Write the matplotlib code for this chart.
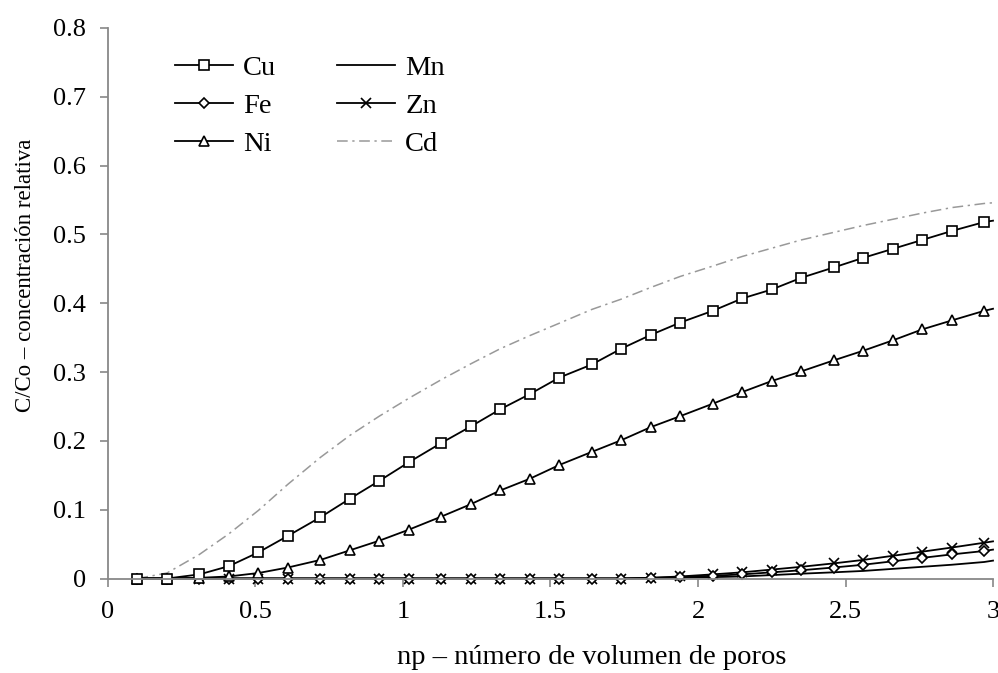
import numpy as np
import matplotlib.pyplot as plt

# pore volumes where the points were taken (plus the curve end at 3.0)
np_vol = [0.10, 0.20, 0.31, 0.41, 0.51, 0.61, 0.72, 0.82, 0.92, 1.02,
          1.13, 1.23, 1.33, 1.43, 1.53, 1.64, 1.74, 1.84, 1.94, 2.05,
          2.15, 2.25, 2.35, 2.46, 2.56, 2.66, 2.76, 2.86, 2.97, 3.00]

cu = [0.000, 0.000, 0.006, 0.018, 0.038, 0.062, 0.089, 0.116, 0.142, 0.169,
      0.197, 0.221, 0.246, 0.268, 0.292, 0.311, 0.334, 0.354, 0.372, 0.389,
      0.407, 0.420, 0.437, 0.452, 0.466, 0.479, 0.492, 0.505, 0.518, 0.520]
fe = [0.000, 0.000, 0.000, 0.000, 0.000, 0.000, 0.000, 0.000, 0.000, 0.000,
      0.000, 0.000, 0.000, 0.000, 0.000, 0.000, 0.000, 0.001, 0.002, 0.004,
      0.006, 0.009, 0.012, 0.016, 0.020, 0.025, 0.030, 0.035, 0.040, 0.042]
ni = [0.000, 0.000, 0.001, 0.003, 0.008, 0.016, 0.027, 0.041, 0.055, 0.071,
      0.090, 0.108, 0.128, 0.145, 0.165, 0.184, 0.201, 0.220, 0.236, 0.254,
      0.271, 0.287, 0.301, 0.317, 0.331, 0.346, 0.362, 0.375, 0.389, 0.392]
mn = [0.000, 0.000, 0.000, 0.000, 0.000, 0.000, 0.000, 0.000, 0.000, 0.000,
      0.000, 0.000, 0.000, 0.000, 0.000, 0.000, 0.000, 0.000, 0.001, 0.002,
      0.003, 0.005, 0.007, 0.009, 0.011, 0.014, 0.017, 0.020, 0.024, 0.026]
zn = [0.000, 0.000, 0.000, 0.000, 0.000, 0.000, 0.000, 0.000, 0.000, 0.000,
      0.000, 0.000, 0.000, 0.000, 0.000, 0.000, 0.000, 0.001, 0.003, 0.006,
      0.009, 0.013, 0.017, 0.022, 0.027, 0.033, 0.039, 0.045, 0.052, 0.054]
cd = [0.000, 0.008, 0.035, 0.065, 0.099, 0.137, 0.176, 0.208, 0.236, 0.262,
      0.289, 0.312, 0.334, 0.353, 0.371, 0.391, 0.406, 0.423, 0.439, 0.454,
      0.468, 0.480, 0.492, 0.503, 0.513, 0.522, 0.531, 0.539, 0.545, 0.546]

plt.rcParams['font.family'] = ['Liberation Serif', 'DejaVu Serif']

fig = plt.figure(figsize=(9.98, 6.73), dpi=100)
ax = fig.add_axes([0.1082, 0.1404, 0.8868, 0.8180])

marks = list(range(29))  # last point is only the end of the curve
lw = 1.3
l_cd, = ax.plot(np_vol, cd, color='#999999', lw=1.1, dashes=(7, 3, 1.5, 3),
                label='Cd')
l_mn, = ax.plot(np_vol, mn, color='black', lw=lw, label='Mn')
l_zn, = ax.plot(np_vol, zn, color='black', lw=lw, marker='x', ms=7, mew=1.2,
                markevery=marks, label='Zn')
l_fe, = ax.plot(np_vol, fe, color='black', lw=lw, marker='D', ms=5, mfc='white',
                mec='black', mew=1.2, markevery=marks, label='Fe')
l_ni, = ax.plot(np_vol, ni, color='black', lw=lw, marker='^', ms=7, mfc='white',
                mec='black', mew=1.2, markevery=marks, label='Ni')
l_cu, = ax.plot(np_vol, cu, color='black', lw=lw, marker='s', ms=7, mfc='white',
                mec='black', mew=1.2, markevery=marks, label='Cu')
for ln in [l_cd, l_mn, l_zn, l_fe, l_ni, l_cu]:
    ln.set_clip_on(False)  # markers sitting on the axis stay whole

ax.set_xlim(0, 3)
ax.set_ylim(0, 0.8)
ax.set_xticks([0, 0.5, 1, 1.5, 2, 2.5, 3])
ax.set_xticklabels(['0', '0.5', '1', '1.5', '2', '2.5', '3'])
ax.set_yticks(np.arange(0, 0.81, 0.1))
ax.set_yticklabels(['0', '0.1', '0.2', '0.3', '0.4', '0.5', '0.6', '0.7', '0.8'])

for side in ['top', 'right']:
    ax.spines[side].set_visible(False)
for side in ['left', 'bottom']:
    ax.spines[side].set_color('#888888')
    ax.spines[side].set_linewidth(1.3)
ax.tick_params(direction='out', length=6, width=1.2, color='#888888',
               labelsize=19, pad=10)

ax.set_xlabel('np – número de volumen de poros', fontsize=20.5)
ax.set_ylabel('C/Co – concentración relativa', fontsize=16.5)
ax.xaxis.set_label_coords(0.547, -0.121)
ax.yaxis.set_label_coords(-0.081, 0.551)

# legend is filled column by column: Cu Fe Ni | Mn Zn Cd
ax.legend([l_cu, l_fe, l_ni, l_mn, l_zn, l_cd], ['Cu', 'Fe', 'Ni', 'Mn', 'Zn', 'Cd'],
          ncol=2, loc='upper left', frameon=False, fontsize=20.5,
          bbox_to_anchor=(175 / 998, 1 - 55 / 673),
          bbox_transform=fig.transFigure, borderaxespad=0, borderpad=0,
          handlelength=2.04, handletextpad=0.35, columnspacing=2.14,
          labelspacing=0.42, numpoints=1)

fig.savefig('out.png', dpi=100)
